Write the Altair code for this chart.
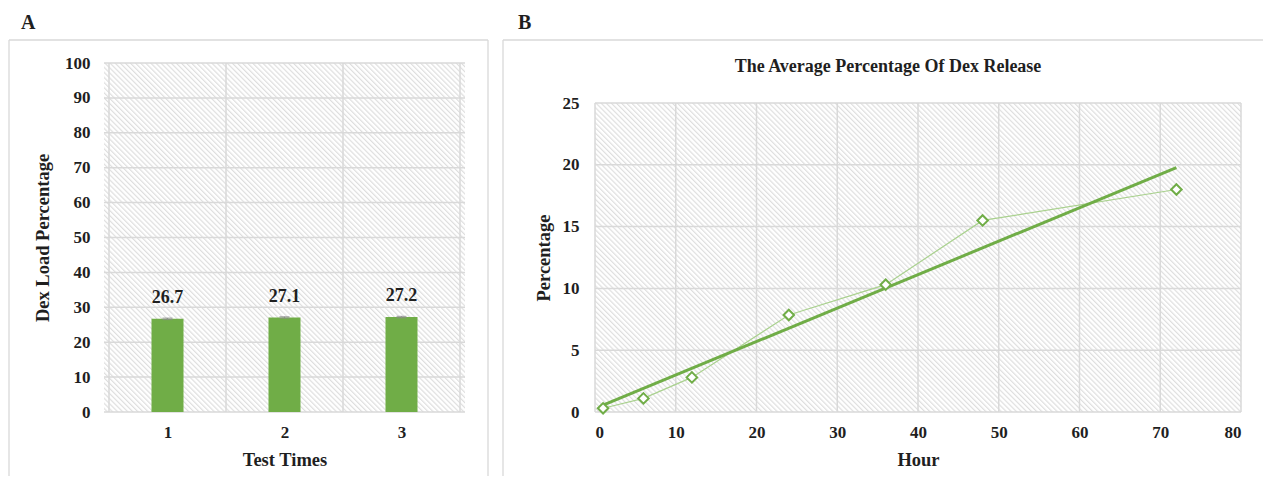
import base64
import altair as alt
import pandas as pd

# ---------------- data ----------------
test_times = [1, 2, 3]
load_pct = [26.7, 27.1, 27.2]
load_err = [0.2, 0.2, 0.2]

hours = [1, 6, 12, 24, 36, 48, 72]
release_pct = [0.3, 1.1, 2.8, 7.85, 10.3, 15.5, 18.0]

a_yticks = list(range(0, 101, 10))
a_xbounds = [0.5, 1.5, 2.5, 3.5]
b_yticks = list(range(0, 26, 5))
b_xticks = list(range(0, 81, 10))

FONT = "Liberation Serif"
TXT = "#1f1f1f"
GREEN = "#70ad47"
LIGHT_GREEN = "#a9d18e"
GRID = "#d9d9d9"

WA, HA = 361, 349          # panel A plot area
WB, HB = 646, 349          # panel B view (data area starts 40px lower)
B_TOP = 40


def hatch_uri(w, h):
    svg = (
        f'<svg xmlns="http://www.w3.org/2000/svg" width="{w}" height="{h}">'
        '<defs><pattern id="p" width="3.6" height="3.6" patternUnits="userSpaceOnUse" '
        'patternTransform="rotate(-45)"><rect width="1.2" height="3.6" fill="#dedede"/></pattern></defs>'
        f'<rect width="{w}" height="{h}" fill="#ffffff"/>'
        f'<rect width="{w}" height="{h}" fill="url(#p)"/></svg>'
    )
    return "data:image/svg+xml;base64," + base64.b64encode(svg.encode()).decode()


def hatch(w, h, top=0):
    return alt.Chart(alt.Data(values=[{"url": hatch_uri(w, h)}])).mark_image(
        width=w, height=h, aspect=False, align="left", baseline="top"
    ).encode(x=alt.value(0), y=alt.value(top), url="url:N")


def frame(rules):
    layers = []
    for (x1, y1, x2, y2) in rules:
        layers.append(
            alt.Chart(alt.Data(values=[{}])).mark_rule(color="#d9d9d9", strokeWidth=1.3).encode(
                x=alt.value(x1), y=alt.value(y1), x2=alt.value(x2), y2=alt.value(y2)
            )
        )
    return layers


def label(txt, x, y):
    return alt.Chart(alt.Data(values=[{}])).mark_text(
        text=txt, font=FONT, fontWeight="bold", fontSize=20, color=TXT,
        align="left", baseline="top"
    ).encode(x=alt.value(x), y=alt.value(y))


# ---------------- panel A ----------------
dfA = pd.DataFrame({"test": test_times, "load": load_pct, "err": load_err})
dfA["lo"] = dfA["load"] - dfA["err"]
dfA["hi"] = dfA["load"] + dfA["err"]

xA_scale = alt.Scale(domain=[0.5, 3.5], nice=False, zero=False)
yA_scale = alt.Scale(domain=[0, 100], nice=False)

xA_axis = alt.Axis(values=test_times, title="Test Times", format="d",
                   labelPadding=12, titlePadding=10)
yA_axis = alt.Axis(values=a_yticks, title="Dex Load Percentage",
                   labelPadding=14, titlePadding=12)

a_hgrid = alt.Chart(pd.DataFrame({"yt": a_yticks})).mark_rule(color=GRID, strokeWidth=1.5).encode(
    y=alt.Y("yt:Q", scale=yA_scale, axis=yA_axis))
a_vgrid = alt.Chart(pd.DataFrame({"xb": a_xbounds})).mark_rule(color=GRID, strokeWidth=1.5).encode(
    x=alt.X("xb:Q", scale=xA_scale, axis=xA_axis))

bars = alt.Chart(dfA).mark_bar(size=32, color=GREEN).encode(
    x=alt.X("test:Q", scale=xA_scale, axis=xA_axis),
    y=alt.Y("load:Q", scale=yA_scale, axis=yA_axis),
)
errs = alt.Chart(dfA).mark_errorbar(color="#8c8c8c", thickness=1.2,
                                   ticks={"size": 10, "thickness": 1.2}).encode(
    x=alt.X("test:Q", scale=xA_scale, axis=xA_axis),
    y=alt.Y("lo:Q", scale=yA_scale, axis=yA_axis),
    y2="hi:Q",
)
vals = alt.Chart(dfA).mark_text(font=FONT, fontWeight="bold", fontSize=18, color=TXT,
                                baseline="bottom", dy=-11).encode(
    x=alt.X("test:Q", scale=xA_scale, axis=xA_axis),
    y=alt.Y("hi:Q", scale=yA_scale, axis=yA_axis),
    text=alt.Text("load:Q", format=".1f"),
)

panelA = alt.layer(
    hatch(WA, HA), a_hgrid, a_vgrid, bars, errs, vals,
    *frame([(-95, -23, 384, -23), (-95, -23, -95, 413), (384, -23, 384, 413)]),
    label("A", -83, -50),
).properties(width=WA, height=HA)

# ---------------- panel B ----------------
dfB = pd.DataFrame({"hour": hours, "release": release_pct})

xB_scale = alt.Scale(domain=[0, 80], nice=False)
yB_scale = alt.Scale(domain=[0, 25], nice=False, range=[HB, B_TOP])
xB_axis = alt.Axis(values=b_xticks, title="Hour", labelPadding=12, titlePadding=10)
yB_axis = alt.Axis(values=b_yticks, title="Percentage", labelPadding=16, titlePadding=9)

b_hgrid = alt.Chart(pd.DataFrame({"yt": b_yticks})).mark_rule(color=GRID, strokeWidth=1.5).encode(
    y=alt.Y("yt:Q", scale=yB_scale, axis=yB_axis))
b_vgrid = alt.Chart(pd.DataFrame({"xt": b_xticks,
                                  "ylo": [b_yticks[0]] * len(b_xticks),
                                  "yhi": [b_yticks[-1]] * len(b_xticks)})).mark_rule(
    color=GRID, strokeWidth=1.5).encode(
    x=alt.X("xt:Q", scale=xB_scale, axis=xB_axis),
    y=alt.Y("yhi:Q", scale=yB_scale, axis=yB_axis),
    y2="ylo:Q",
)

conn = alt.Chart(dfB).mark_line(color=LIGHT_GREEN, strokeWidth=1.2).encode(
    x=alt.X("hour:Q", scale=xB_scale, axis=xB_axis),
    y=alt.Y("release:Q", scale=yB_scale, axis=yB_axis),
)
trend = alt.Chart(dfB).transform_regression("hour", "release", method="linear").mark_line(
    color=GREEN, strokeWidth=3).encode(
    x=alt.X("hour:Q", scale=xB_scale, axis=xB_axis),
    y=alt.Y("release:Q", scale=yB_scale, axis=yB_axis),
)
pts = alt.Chart(dfB).mark_point(shape="diamond", filled=True, fill="#ffffff", stroke=GREEN,
                                strokeWidth=2, size=110, opacity=1).encode(
    x=alt.X("hour:Q", scale=xB_scale, axis=xB_axis),
    y=alt.Y("release:Q", scale=yB_scale, axis=yB_axis),
)
titleB = alt.Chart(alt.Data(values=[{}])).mark_text(
    text="The Average Percentage Of Dex Release", font=FONT, fontWeight="bold",
    fontSize=18, color=TXT, align="center", baseline="middle"
).encode(x=alt.value(293), y=alt.value(4))

panelB = alt.layer(
    hatch(WB, HB - B_TOP, B_TOP), b_hgrid, b_vgrid, conn, trend, pts, titleB,
    *frame([(-92, -23, 668, -23), (-92, -23, -92, 413)]),
    label("B", -77, -50),
).properties(width=WB, height=HB)

chart = alt.hconcat(panelA, panelB, spacing=13).properties(
    padding={"left": 0, "top": 5, "right": 0, "bottom": 0},
    background="#ffffff",
).configure_view(strokeWidth=0).configure_axis(
    domain=False, ticks=False, grid=False,
    labelFont=FONT, labelFontWeight="bold", labelFontSize=17, labelColor=TXT,
    titleFont=FONT, titleFontWeight="bold", titleFontSize=18.5, titleColor=TXT,
)

chart.save("out.html", embed_options={"renderer": "svg", "actions": False})
